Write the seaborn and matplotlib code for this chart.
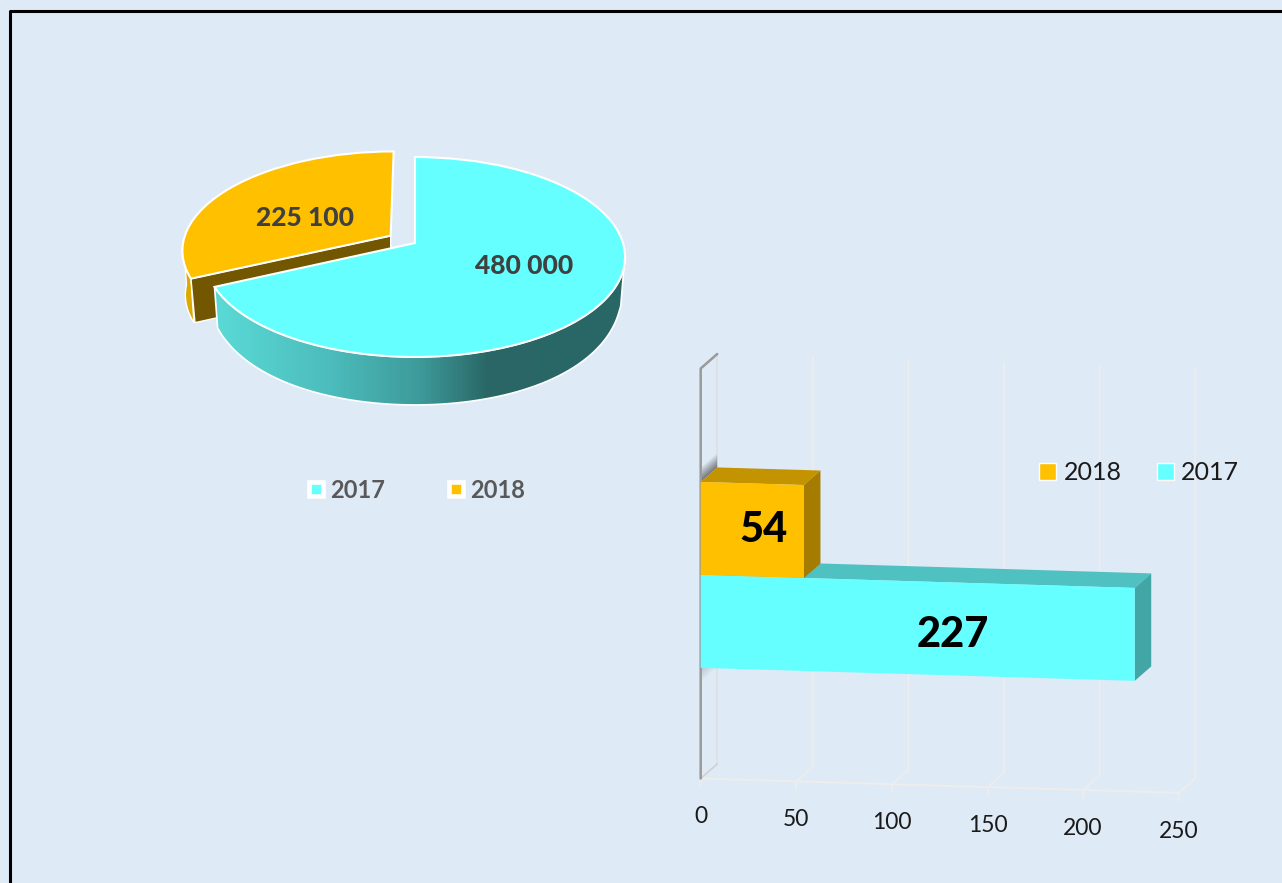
import numpy as np
import pandas as pd
import seaborn as sns
import matplotlib.pyplot as plt
from matplotlib.colors import LinearSegmentedColormap
from matplotlib.lines import Line2D
from matplotlib.patches import Polygon
from matplotlib.transforms import Affine2D, Transform

# chart values
pie_years = ["2017", "2018"]
pie_values = [480000, 225100]
bar_years = ["2018", "2017"]
bar_values = [54, 227]
bar_ticks = [0, 50, 100, 150, 200, 250]
bar_label_x = [33, 132]
bar_label_y = [0, 1.07]

CYAN = "#66FFFF"
GOLD = "#FFC000"
BG = "#DEEAF6"
W, H = 1282, 883

sns.set_theme(style="white")
plt.rcParams["font.family"] = ["Lato", "DejaVu Sans"]

fig = plt.figure(figsize=(W / 100, H / 100), dpi=100, facecolor=BG)

# only the top and left of the frame are inside the picture
fig.add_artist(Line2D([10 / W, 10 / W, 1], [0, 1 - 11 / H, 1 - 11 / H], color="black", lw=2.2))


class Perspective(Transform):
    """Tilted view of the unit circle, output in pixels."""
    input_dims = 2
    output_dims = 2

    def transform_non_affine(self, values):
        u, v = np.asarray(values).T
        w = 1 + 0.14 * v
        return np.column_stack([415 + 208 * u / w, 243 - 98 * v / w])


# ---- pie ----
pie_ax = fig.add_axes([0, 0, 1, 1])
pie_ax.patch.set_visible(False)
explode = [0, 0.14]
wedges, _ = pie_ax.pie(pie_values, colors=[CYAN, GOLD], startangle=90, counterclock=False, explode=explode,
                       wedgeprops=dict(edgecolor="white", linewidth=1.5))
pie_ax.set_aspect("auto")
pie_ax.set_xlim(0, W)
pie_ax.set_ylim(H, 0)
pie_ax.axis("off")

persp = Perspective()
for w in wedges:
    w.set_transform(persp + pie_ax.transData)
    w.set_clip_on(False)
wedges[1].set_zorder(3)
wedges[0].set_zorder(6)

cut = 90 - 360 * pie_values[0] / sum(pie_values) + 360
mid = np.radians((cut + 90) / 2)
shift = np.array([np.cos(mid), np.sin(mid)]) * explode[1]


def rim(a, b, offset=(0, 0), n=80):
    t = np.radians(np.linspace(a, b, n))
    return persp.transform(np.column_stack([np.cos(t) + offset[0], np.sin(t) + offset[1]]))


def lower_rim(pts):
    t = np.clip((pts[:, 1] - 273) / 84, 0, 1)
    return np.column_stack([418 + (pts[:, 0] - 418) * 0.985, pts[:, 1] + 48 - 10 * (1 - t) ** 2])


# cyan outer wall with its gradient
top = rim(cut, 346)
wall = np.vstack([top, lower_rim(top)[::-1]])
wall_patch = Polygon(wall, closed=True, facecolor="none", edgecolor="white", lw=1.2, zorder=5)
pie_ax.add_patch(wall_patch)
cmap = LinearSegmentedColormap.from_list("wall", [(0, "#5ADAD6"), (0.28, "#4CBCBC"), (0.5, "#3E9A9A"),
                                                  (0.67, "#296665"), (1, "#2A6868")])
im = pie_ax.imshow(np.linspace(0, 1, 400).reshape(1, -1), cmap=cmap, aspect="auto", zorder=4.5,
                   extent=(wall[:, 0].min(), wall[:, 0].max(), wall[:, 1].max(), wall[:, 1].min()))
im.set_clip_path(wall_patch)
pie_ax.set_xlim(0, W)
pie_ax.set_ylim(H, 0)

# gold slice: outer wall and the dark cut face
gold_top = rim(183, cut, shift, 30)
gold_low = gold_top + [3, 44]
pie_ax.add_patch(Polygon(np.vstack([gold_top, gold_low[::-1]]), closed=True, facecolor="#DDA800",
                         edgecolor="white", lw=1, zorder=1))
corner = gold_top[-1]
apex = persp.transform(shift.reshape(1, 2))[0]
pie_ax.add_patch(Polygon([corner, apex, apex + [0, 44], corner + [4, 44]], closed=True, facecolor="#735600",
                         edgecolor="white", lw=1, zorder=2))

for year_val, pos in zip(pie_values, [(524, 266), (305, 218)]):
    pie_ax.text(pos[0], pos[1], f"{year_val:,}".replace(",", " "), ha="center", va="center", fontsize=19,
                fontweight="black", color="#404040", zorder=8)

pie_handles = [Line2D([], [], linestyle="none", marker="s", markersize=10, markerfacecolor=c,
                      markeredgecolor="white", markeredgewidth=3.3) for c in [CYAN, GOLD]]
pie_ax.legend(pie_handles, pie_years, loc="center", bbox_to_anchor=(414.5 / W, 1 - 490 / H),
              bbox_transform=fig.transFigure, ncol=2, frameon=False, handlelength=1, handletextpad=0.1,
              columnspacing=2.5, prop=dict(weight="bold", size=17), labelcolor="#595959")

# ---- 3D looking bars ----
px_per_unit = 478 / 250
px_per_cat = 93
ax = fig.add_axes([700.7 / W, 1 - 778.5 / H, 478 / W, 410 / H])
ax.patch.set_visible(False)
bars = pd.DataFrame({"year": bar_years, "value": bar_values})
sns.barplot(data=bars, x="value", y="year", hue="year", hue_order=bar_years, order=bar_years, dodge=False,
            palette=[GOLD, CYAN], width=1, saturation=1, ax=ax, legend=True)
y_low, y_top = 2.69, -1.72
ax.set_xlim(0, 250)
ax.set_ylim(y_low, y_top)
ax.set_xlabel("")
ax.set_ylabel("")
ax.set_yticks([])
sns.despine(ax=ax, left=True, bottom=True)

# the whole chart runs slightly downhill to the right
slope = 0.03
skew = Affine2D.from_values(1, slope * px_per_unit / px_per_cat, 0, 1, 0, 0) + ax.transData
dx, dy = 16.5 / px_per_unit, -15 / px_per_cat

for p, top_col, side_col, z in zip(ax.patches, ["#C49300", "#4FC1C1"], ["#A67C00", "#43A6A6"], [3.4, 2.4]):
    x0, y0, w, h = p.get_x(), p.get_y(), p.get_width(), p.get_height()
    p.set_transform(skew)
    p.set_clip_on(False)
    p.set_linewidth(0)
    p.set_zorder(z + 0.2)
    ax.add_patch(Polygon([(x0, y0), (x0 + dx, y0 + dy), (x0 + w + dx, y0 + dy), (x0 + w, y0)], closed=True,
                         facecolor=top_col, transform=skew, clip_on=False, zorder=z, lw=0))
    ax.add_patch(Polygon([(x0 + w, y0), (x0 + w + dx, y0 + dy), (x0 + w + dx, y0 + h + dy), (x0 + w, y0 + h)],
                         closed=True, facecolor=side_col, transform=skew, clip_on=False, zorder=z, lw=0))

grid_col = "#EDEDED"
for t in bar_ticks[1:]:
    ax.plot([t + dx, t + dx, t], [y_top + dy, y_low + dy, y_low], color=grid_col, lw=1.3, transform=skew,
            clip_on=False, zorder=1)
for t in bar_ticks:
    ax.plot([t, t], [y_low, y_low + 8 / px_per_cat], color=grid_col, lw=1.2, transform=skew, clip_on=False, zorder=1)
ax.plot([0, bar_ticks[-1]], [y_low, y_low], color=grid_col, lw=1.5, transform=skew, clip_on=False, zorder=1)

# side wall
ax.plot([dx, dx], [y_top + dy, y_low + dy], color="#E0E0E0", lw=1.3, transform=skew, clip_on=False, zorder=1)
ax.plot([0, dx], [y_low, y_low + dy], color="#D0D0D0", lw=1.2, transform=skew, clip_on=False, zorder=1)
ax.plot([dx, 0, 0], [y_top + dy, y_top, y_low], color="#9A9A9A", lw=1.8, transform=skew, clip_on=False, zorder=1.5)

# bar shadows on the wall
for start, strength in [(-0.5, 0.7), (1.5, 0.2)]:
    for i in range(8):
        a = start - 0.15 * i / 8
        b = start - 0.15 * (i + 1) / 8
        if start > 0:
            a, b = start + 0.15 * i / 8, start + 0.15 * (i + 1) / 8
        ax.add_patch(Polygon([(0, a), (dx, a + dy), (dx, b + dy), (0, b)], closed=True, facecolor="#404040",
                             alpha=strength * (1 - i / 8), transform=skew, clip_on=False, zorder=1.2, lw=0))

for lx, ly, val in zip(bar_label_x, bar_label_y, bar_values):
    ax.text(lx, ly, str(val), ha="center", va="center", fontsize=30, fontweight="black", color="black",
            transform=skew, clip_on=False, zorder=5)

ax.set_xticks(bar_ticks)
ax.set_xticklabels([str(t) for t in bar_ticks])
ax.tick_params(axis="x", length=0, pad=20, labelsize=16.5, labelcolor="#1A1A1A")
for t, label in zip(bar_ticks, ax.get_xticklabels()):
    label.set_transform(label.get_transform() + Affine2D().translate(0, -slope * t * px_per_unit))

sns.move_legend(ax, "center", bbox_to_anchor=(1139 / W, 1 - 473 / H), bbox_transform=fig.transFigure, ncol=2,
                frameon=False, title=None, fontsize=18, handlelength=0.68, handleheight=0.68, handletextpad=0.3,
                columnspacing=1.4, labelcolor="#1A1A1A")

fig.savefig("out.png", dpi=100, facecolor=BG)
